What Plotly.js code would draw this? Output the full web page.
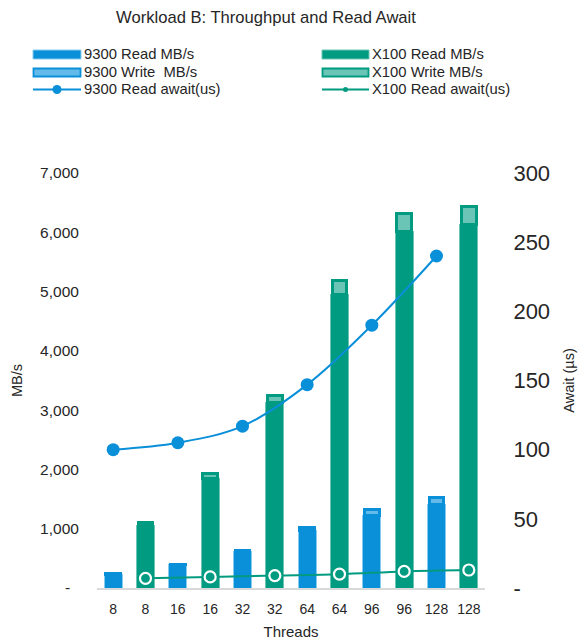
<!DOCTYPE html>
<html><head><meta charset="utf-8">
<script src="https://cdn.plot.ly/plotly-3.0.1.min.js"></script>
<style>html,body{margin:0;padding:0;background:#fff}</style>
</head><body><div id="chart" style="width:583px;height:640px"></div>
<script>
// ---- data ----
const threadLabels = ['8','8','16','16','32','32','64','64','96','96','128','128'];
const threads = [8, 16, 32, 64, 96, 128];
const read9300 = [235, 390, 610, 965, 1225, 1415];
const write9300 = [5, 10, 30, 55, 100, 112];
const readX100 = [1050, 1855, 3135, 4955, 6020, 6130];
const writeX100 = [50, 80, 115, 225, 300, 300];
const await9300 = [100, 105, 117, 147, 190, 240];
const awaitX100 = [7, 8, 9, 10, 12, 13];
const yTickVals = [0, 1000, 2000, 3000, 4000, 5000, 6000, 7000];
const yTickText = ['-\u00a0\u00a0', '1,000', '2,000', '3,000', '4,000', '5,000', '6,000', '7,000'];
const y2TickVals = [0, 50, 100, 150, 200, 250, 300];
const y2TickText = ['-', '50', '100', '150', '200', '250', '300'];
const seriesNames = ['9300 Read MB/s', '9300 Write  MB/s', '9300 Read await(us)', 'X100 Read MB/s', 'X100 Write MB/s', 'X100 Read await(us)'];

// ---- styling ----
const BLUE = '#0A8FD9', BLUE_L = '#63BAEA', BLUE_E = '#86CBF0';
const GREEN = '#009B80', GREEN_L = '#6BC5B6', GREEN_E = '#6CC4B5';
const FONT = 'Liberation Sans, Arial, sans-serif';
const TXT = '#262626';

const x9300 = threads.map((t, i) => 2 * i);
const xX100 = threads.map((t, i) => 2 * i + 1);
const tickPos = threadLabels.map((_, i) => i);
const BW = 0.55;
const WLINE = 3;
const BW_W = BW - WLINE / 32.33; // write segment drawn inset so its border stays inside the bar

const traces = [
  {type: 'bar', name: seriesNames[0], x: x9300, y: read9300, width: BW,
   marker: {color: BLUE, line: {color: BLUE_E, width: 1}}},
  {type: 'bar', name: seriesNames[3], x: xX100, y: readX100, width: BW,
   marker: {color: GREEN, line: {color: GREEN_E, width: 1}}},
  {type: 'bar', name: seriesNames[1], x: x9300, y: write9300, width: BW_W,
   marker: {color: BLUE_L, line: {color: BLUE, width: WLINE}}},
  {type: 'bar', name: seriesNames[4], x: xX100, y: writeX100, width: BW_W,
   marker: {color: GREEN_L, line: {color: GREEN, width: WLINE}}},
  {type: 'scatter', mode: 'lines+markers', name: seriesNames[2], x: x9300, y: await9300, yaxis: 'y2',
   line: {color: BLUE, width: 2, shape: 'spline'}, marker: {color: BLUE, size: 13}},
  {type: 'scatter', mode: 'lines+markers', name: seriesNames[5], x: xX100, y: awaitX100, yaxis: 'y2',
   line: {color: GREEN, width: 2, shape: 'spline'}, marker: {color: GREEN, size: 11, line: {color: '#ffffff', width: 2.2}}}
];
traces.forEach(t => t.showlegend = false);

// plot area in pixels
const L = 97, R = 485, T = 173, B = 588;
const px = x => (x - L) / (R - L);
const py = y => (B - y) / (B - T);

// custom legend (two columns)
const shapes = [];
const annotations = [];
const cols = [{x0: 33, x1: 81, tx: 82, c: BLUE, cl: BLUE_L, ce: BLUE_E, names: [0, 1, 2], dot: 9},
              {x0: 322, x1: 369, tx: 370, c: GREEN, cl: GREEN_L, ce: GREEN_E, names: [3, 4, 5], dot: 5}];
const rowsY = [54.5, 72.5, 89.5];
cols.forEach(col => {
  shapes.push({type: 'rect', xref: 'paper', yref: 'paper', x0: px(col.x0), x1: px(col.x1), y0: py(rowsY[0] + 4.5), y1: py(rowsY[0] - 4.5),
    fillcolor: col.c, line: {color: col.ce, width: 1}});
  shapes.push({type: 'rect', xref: 'paper', yref: 'paper', x0: px(col.x0 + 0.5), x1: px(col.x1 - 0.5), y0: py(rowsY[1] + 4), y1: py(rowsY[1] - 4),
    fillcolor: col.cl, line: {color: col.c, width: 1.8}});
  shapes.push({type: 'line', xref: 'paper', yref: 'paper', x0: px(col.x0), x1: px(col.x1), y0: py(rowsY[2]), y1: py(rowsY[2]),
    line: {color: col.c, width: 2}});
  const cx = (col.x0 + col.x1) / 2, r = col.dot / 2;
  shapes.push({type: 'circle', xref: 'paper', yref: 'paper', x0: px(cx - r), x1: px(cx + r), y0: py(rowsY[2] + r), y1: py(rowsY[2] - r),
    fillcolor: col.c, line: {color: col.c, width: 0}});
  col.names.forEach((n, k) => {
    annotations.push({xref: 'paper', yref: 'paper', x: px(col.tx), y: py(rowsY[k]), xanchor: 'left', yanchor: 'middle',
      text: seriesNames[n], showarrow: false, font: {family: FONT, size: 14.8, color: TXT}});
  });
});

const layout = {
  width: 583, height: 640,
  margin: {l: L, r: 583 - R, t: T, b: 640 - B, pad: 0},
  paper_bgcolor: '#ffffff', plot_bgcolor: '#ffffff',
  font: {family: FONT, color: TXT},
  title: {text: 'Workload B: Throughput and Read Await', x: 266 / 583, xanchor: 'center', y: 1 - 17 / 640, yanchor: 'middle',
    font: {family: FONT, size: 16.6, color: TXT}},
  barmode: 'stack',
  showlegend: false,
  xaxis: {
    range: [-0.5, 11.5], tickvals: tickPos, ticktext: threadLabels,
    showgrid: false, zeroline: false, showline: true, linecolor: '#D9D9D9', linewidth: 2,
    ticks: 'outside', ticklen: 7, tickcolor: 'rgba(0,0,0,0)',
    tickfont: {family: FONT, size: 14, color: TXT},
    title: {text: 'Threads', font: {family: FONT, size: 15, color: TXT}, standoff: 12}
  },
  yaxis: {
    range: [0, 7000], tickvals: yTickVals, ticktext: yTickText,
    showgrid: false, zeroline: false, showline: false,
    ticks: 'outside', ticklen: 14, tickcolor: 'rgba(0,0,0,0)',
    tickfont: {family: FONT, size: 15.5, color: TXT},
    title: {text: 'MB/s', font: {family: FONT, size: 14.5, color: TXT}, standoff: 14}
  },
  yaxis2: {
    overlaying: 'y', side: 'right',
    range: [0, 300], tickvals: y2TickVals, ticktext: y2TickText,
    showgrid: false, zeroline: false, showline: false,
    ticks: 'outside', ticklen: 23, tickcolor: 'rgba(0,0,0,0)',
    tickfont: {family: FONT, size: 22, color: TXT},
    title: {text: 'Await (µs)', font: {family: FONT, size: 14.5, color: TXT}, standoff: 14}
  },
  shapes: shapes,
  annotations: annotations
};

Plotly.newPlot('chart', traces, layout, {displayModeBar: false, staticPlot: true});
</script>
</body></html>
